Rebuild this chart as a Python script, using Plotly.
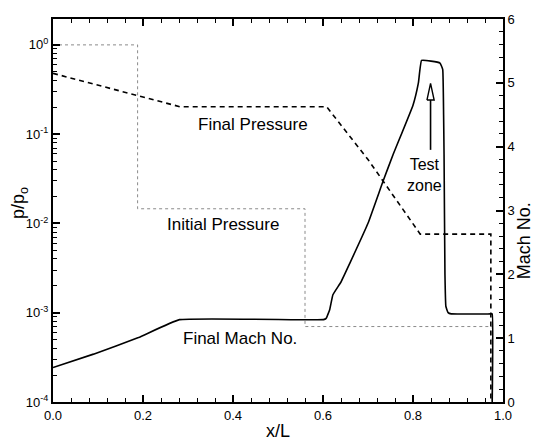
import plotly.graph_objects as go

# ---- data ----
init_x = [0.0, 0.188, 0.188, 0.56, 0.56, 0.976, 0.976]
init_p = [1.0, 1.0, 0.0146, 0.0146, 0.0007, 0.0007, 0.0001]

final_x = [0.0, 0.282, 0.608, 0.70, 0.816, 0.973, 0.973]
final_p = [0.48, 0.203, 0.203, 0.052, 0.0076, 0.0076, 0.0001]

mach_x = [0.0, 0.09, 0.19, 0.281, 0.601, 0.607, 0.615, 0.622, 0.64, 0.66, 0.70,
          0.734, 0.756, 0.80, 0.812, 0.819, 0.84, 0.86, 0.866, 0.868, 0.869,
          0.871, 0.873, 0.878, 0.885, 0.972, 0.976, 0.976]
mach_m = [0.54, 0.75, 1.01, 1.29, 1.29, 1.31, 1.45, 1.68, 1.88, 2.18, 2.80,
          3.47, 3.88, 4.65, 5.00, 5.35, 5.34, 5.31, 5.21, 4.50, 3.88,
          2.00, 1.50, 1.40, 1.38, 1.38, 1.38, 0.0]

x_ticks = [0.0, 0.2, 0.4, 0.6, 0.8, 1.0]
x_tick_text = ["0.0", "0.2", "0.4", "0.6", "0.8", "1.0"]
p_ticks = [1e-4, 1e-3, 1e-2, 1e-1, 1e0]
p_tick_text = ["10<sup>-4</sup>", "10<sup>-3</sup>", "10<sup>-2</sup>", "10<sup>-1</sup>", "10<sup>0</sup>"]
m_ticks = [0, 1, 2, 3, 4, 5, 6]

# "Test zone" arrow: shaft and open head (Mach-axis units)
arrow_shaft_x = [0.839, 0.839]
arrow_shaft_m = [3.95, 4.73]
arrow_head_x = [0.831, 0.839, 0.847, 0.831]
arrow_head_m = [4.73, 4.99, 4.73, 4.73]

labels = [("Final Pressure", 0.444, 4.34),
          ("Initial Pressure", 0.378, 2.78),
          ("Final Mach No.", 0.416, 1.0)]
test_zone = ("Test<br>zone", 0.826, 3.55)

FONT = "Liberation Sans, Arial, Helvetica, sans-serif"

fig = go.Figure()
fig.add_trace(go.Scatter(x=init_x, y=init_p, mode="lines",
                         line=dict(color="#8a8a8a", width=1, dash="dot"), yaxis="y"))
fig.add_trace(go.Scatter(x=final_x, y=final_p, mode="lines",
                         line=dict(color="black", width=1.6, dash="5px,4px"), yaxis="y"))
fig.add_trace(go.Scatter(x=mach_x, y=mach_m, mode="lines", line_shape="spline",
                         line=dict(color="black", width=1.6, smoothing=0.3), yaxis="y2"))
fig.add_trace(go.Scatter(x=arrow_shaft_x, y=arrow_shaft_m, mode="lines",
                         line=dict(color="black", width=1.6), yaxis="y2"))
fig.add_trace(go.Scatter(x=arrow_head_x, y=arrow_head_m, mode="lines",
                         line=dict(color="black", width=1.4), yaxis="y2"))

for txt, x, y in labels:
    fig.add_annotation(x=x, y=y, xref="x", yref="y2", text=txt, showarrow=False,
                       font=dict(size=17, color="black", family=FONT))
fig.add_annotation(x=test_zone[1], y=test_zone[2], xref="x", yref="y2", text=test_zone[0],
                   showarrow=False, align="center",
                   font=dict(size=16, color="black", family=FONT))

# axis titles
fig.add_annotation(x=0.5, y=-0.077, xref="paper", yref="paper", text="x/L", showarrow=False,
                   yanchor="middle", font=dict(size=18, color="black", family=FONT))
fig.add_annotation(x=-0.073, y=0.52, xref="paper", yref="paper", text="p/p<sub>o</sub>",
                   showarrow=False, textangle=-90, xanchor="center", yanchor="middle",
                   font=dict(size=18, color="black", family=FONT))
fig.add_annotation(x=1.047, y=0.42, xref="paper", yref="paper", text="Mach No.",
                   showarrow=False, textangle=-90, xanchor="center", yanchor="middle",
                   font=dict(size=18, color="black", family=FONT))

fig.update_layout(
    width=547, height=441,
    margin=dict(l=53, r=44, t=12, b=39),
    paper_bgcolor="white", plot_bgcolor="white",
    showlegend=False,
    font=dict(family=FONT, size=13, color="black"),
    xaxis=dict(range=[0, 1], tickvals=x_ticks, ticktext=x_tick_text,
               showline=True, linecolor="black", linewidth=2, mirror="ticks",
               ticks="inside", ticklen=7, tickwidth=1.5, tickcolor="black",
               minor=dict(ticks="inside", ticklen=4, dtick=0.04, tickcolor="black", tickwidth=1),
               showgrid=False, zeroline=False),
    yaxis=dict(type="log", range=[-4, 0.29], tickvals=p_ticks, ticktext=p_tick_text,
               showline=True, linecolor="black", linewidth=2,
               ticks="inside", ticklen=7, tickwidth=1.5, tickcolor="black",
               minor=dict(ticks="inside", ticklen=4, dtick="D1", tickcolor="black", tickwidth=1),
               showgrid=False, zeroline=False),
    yaxis2=dict(range=[0, 6], tickvals=m_ticks, overlaying="y", side="right",
                showline=True, linecolor="black", linewidth=2,
                ticks="inside", ticklen=7, tickwidth=1.5, tickcolor="black",
                minor=dict(ticks="inside", ticklen=4, dtick=0.2, tickcolor="black", tickwidth=1),
                ticklabeloverflow="allow",
                showgrid=False, zeroline=False),
)

# remove the browser's default 8px body margin so the figure fills the window exactly
fig.write_html("out.html", config={"displayModeBar": False},
               post_script="document.body.style.margin='0';")
